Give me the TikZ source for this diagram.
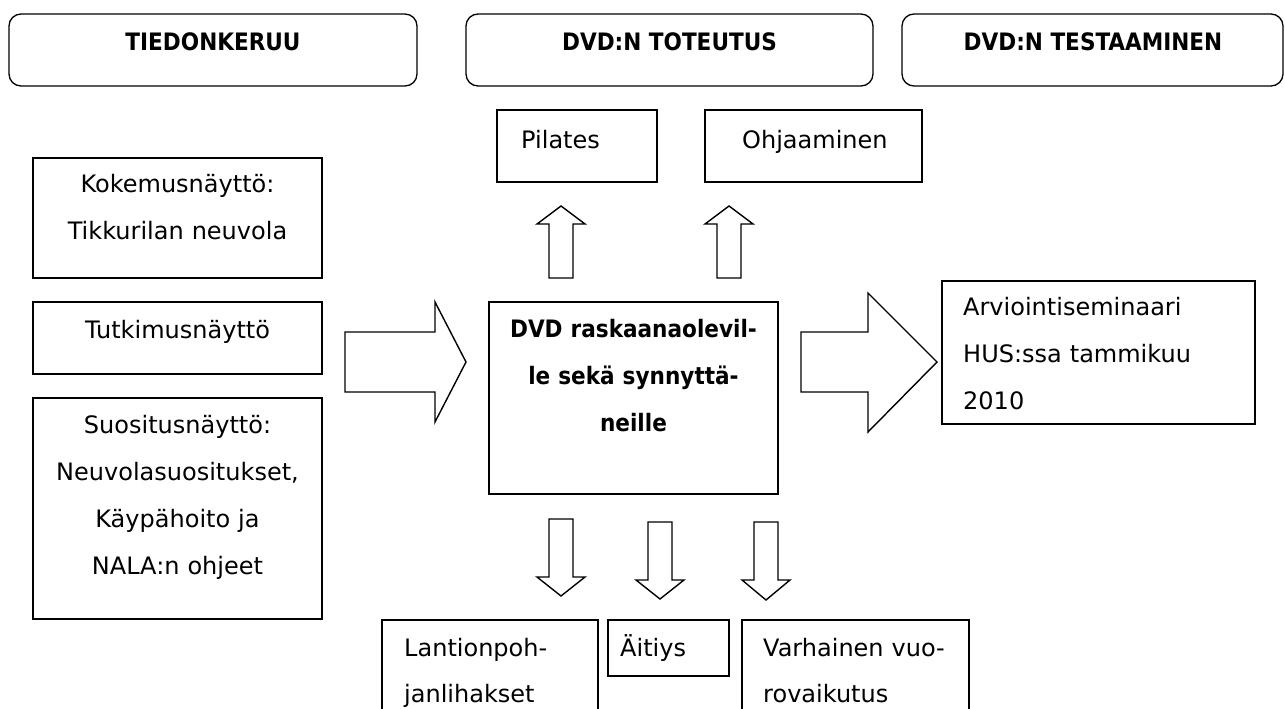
\documentclass[tikz,border=0pt]{standalone}
\usepackage{fontspec}
\setmainfont{DejaVu Sans}
\newfontfamily\condfont{DejaVu Sans Condensed}
\newcommand\fs{\fontsize{24}{47.3}\selectfont}
\newcommand\fsb{\fontsize{24}{46}\selectfont}
\newcommand\myblockarrow[4]{%
  \draw[fat] (#1,#2) -- (#1+24,#3) -- (#1+12,#3) -- (#1+12,#4) -- (#1-12,#4) -- (#1-12,#3) -- (#1-24,#3) -- cycle;}
\tikzset{
  stage/.style={draw, line width=1.3pt, rounded corners=12pt, inner sep=0pt, outer sep=0pt, anchor=north west},
  box/.style={draw, line width=1.5pt, inner sep=0pt, outer sep=0pt, anchor=north west},
  fat/.style={draw, line width=1.4pt, line join=miter, fill=white},
  txtc/.style={font=\fs, inner sep=0pt, anchor=base, align=center},
  txtl/.style={font=\fs, inner sep=0pt, anchor=base west, align=left},
  txtb/.style={font=\fsb, inner sep=0pt, anchor=base west, align=left},
  bold/.style={font=\fs\condfont\bfseries}
}
\begin{document}
\begin{tikzpicture}[x=1pt,y=-1pt]
\useasboundingbox (0,0) rectangle (1285,709);
% stage boxes
\node[stage, minimum width=408pt, minimum height=72pt] (s1) at (9,14) {};
\node[stage, minimum width=407pt, minimum height=72pt] (s2) at (466,14) {};
\node[stage, minimum width=381pt, minimum height=72pt] (s3) at (902,14) {};
\node[txtc, bold] (s1t) at (213,51) {TIEDONKERUU};
\node[txtc, bold] (s2t) at (669.5,51) {DVD:N TOTEUTUS};
\node[txtc, bold] (s3t) at (1093,51) {DVD:N TESTAAMINEN};
% boxes
\node[box, minimum width=160pt, minimum height=72pt] (pil) at (497,110) {};
\node[box, minimum width=217pt, minimum height=72pt] (ohj) at (705,110) {};
\node[box, minimum width=289pt, minimum height=120pt] (kok) at (33,158) {};
\node[box, minimum width=289pt, minimum height=72pt] (tut) at (33,302) {};
\node[box, minimum width=289pt, minimum height=221pt] (suo) at (33,398) {};
\node[box, minimum width=289pt, minimum height=192pt] (dvd) at (489,302) {};
\node[box, minimum width=313pt, minimum height=143pt] (arv) at (942,281) {};
\node[box, minimum width=216pt, minimum height=120pt] (lan) at (382,620) {};
\node[box, minimum width=121pt, minimum height=56pt] (ait) at (608,620) {};
\node[box, minimum width=227pt, minimum height=120pt] (var) at (742,620) {};
% texts
\node[txtl] (pilt) at (521,148) {Pilates};
\node[txtl] (ohjt) at (742,148) {Ohjaaminen};
\node[txtc, text width=289pt] (kokt) at (177.5,192) {Kokemusnäyttö:\\Tikkurilan neuvola};
\node[txtc, text width=289pt] (tutt) at (177.5,338) {Tutkimusnäyttö};
\node[txtc, text width=289pt] (suot) at (177.5,433) {Suositusnäyttö:\\Neuvolasuositukset,\\Käypähoito ja\\NALA:n ohjeet};
\node[txtc, bold, text width=289pt] (dvdt) at (633.5,337) {DVD raskaanaolevil-\\le sekä synnyttä-\\neille};
\node[txtl, text width=290pt] (arvt) at (963,315) {Arviointiseminaari\\HUS:ssa tammikuu\\2010};
\node[txtb, text width=200pt] (lant) at (404,656) {Lantionpoh-\\janlihakset};
\node[txtb] (aitt) at (620,656) {Äitiys};
\node[txtb, text width=210pt] (vart) at (763,656) {Varhainen vuo-\\rovaikutus};
% block arrows
\draw[fat] (345,332) -- (435,332) -- (435,302) -- (466,362) -- (435,422) -- (435,392) -- (345,392) -- cycle;
\draw[fat] (801,332) -- (868,332) -- (868,293) -- (937,362) -- (868,432) -- (868,392) -- (801,392) -- cycle;
\myblockarrow{561}{206}{224}{278}
\myblockarrow{729}{206}{224}{278}
\myblockarrow{561}{596}{577}{519}
\myblockarrow{660}{599}{580}{522}
\myblockarrow{766}{600}{580}{522}
\end{tikzpicture}
\end{document}
